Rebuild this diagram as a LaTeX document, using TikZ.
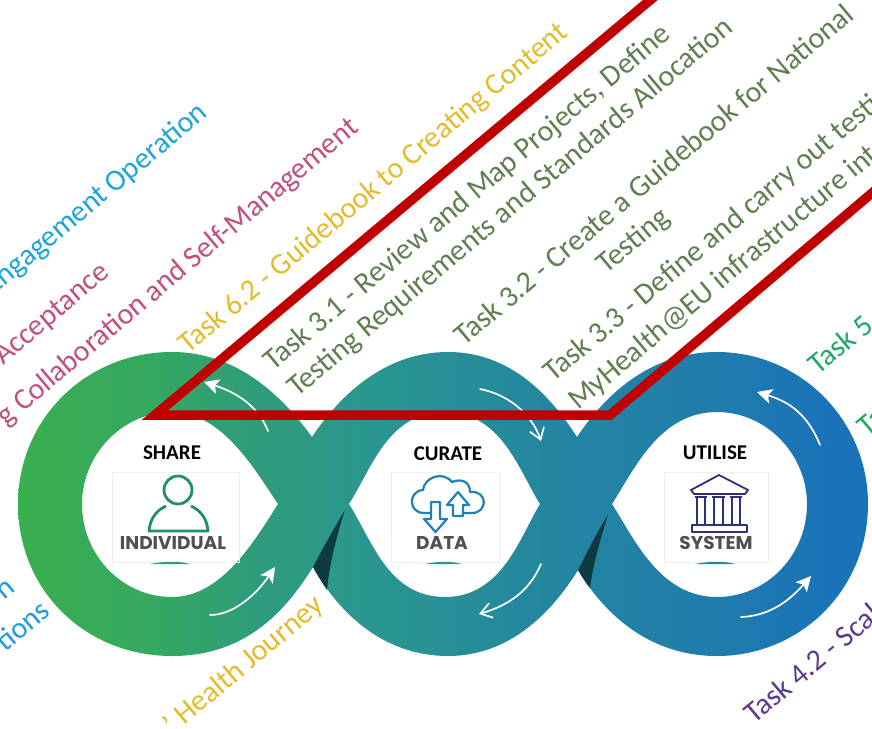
\documentclass[tikz,border=0pt]{standalone}
\usepackage{fontspec}
\setmainfont{Carlito}
\newfontfamily\labelfont{Poppins}
\usetikzlibrary{arrows.meta}
\definecolor{rA}{HTML}{39AF50}
\definecolor{rB}{HTML}{35A860}
\definecolor{rC}{HTML}{2E9C7C}
\definecolor{rD}{HTML}{2A9690}
\definecolor{rE}{HTML}{23869F}
\definecolor{rF}{HTML}{207CAC}
\definecolor{rG}{HTML}{1A72B9}
\definecolor{redline}{HTML}{C00000}
\definecolor{cyanT}{HTML}{1DA5D8}
\definecolor{blueT}{HTML}{1E9BDC}
\definecolor{pinkT}{HTML}{C2507C}
\definecolor{yelT}{HTML}{E3BC2C}
\definecolor{oliveT}{HTML}{5F7F50}
\definecolor{greenT}{HTML}{1FA768}
\definecolor{purpleT}{HTML}{5C3A8F}
\definecolor{shadowC}{HTML}{0E3A44}
\definecolor{personC}{HTML}{1F9160}
\definecolor{cloudC}{HTML}{1F80BC}
\definecolor{templeC}{HTML}{2E2F7A}
\definecolor{capC}{HTML}{505054}
\definecolor{boxC}{HTML}{EFEFEF}
\pgfdeclarehorizontalshading{ribbonshade}{100bp}{
 color(0bp)=(rA); color(25bp)=(rA); color(33bp)=(rB); color(39bp)=(rC); color(46bp)=(rD);
 color(56bp)=(rE); color(66bp)=(rF); color(73bp)=(rG); color(75bp)=(rG); color(100bp)=(rG)}
\tikzset{
 tasktext/.style={rotate=40,anchor=base west,inner sep=0pt,font=\fontsize{30}{30}\selectfont},
 headtext/.style={inner sep=0pt,text=black,font=\fontsize{21}{21}\selectfont\bfseries},
 captext/.style={inner sep=0pt,text=capC,font=\fontsize{18.5}{18.5}\selectfont\labelfont\bfseries},
 flow/.style={draw=white,line width=1.7pt,line cap=round},
 solidhead/.style={-{Stealth[length=15pt,width=15pt,inset=3.5pt]}},
 openhead/.style={-{Straight Barb[length=11pt,width=15pt]}},
 iconbox/.style={draw=boxC,line width=.6pt}
}
\begin{document}
\begin{tikzpicture}[x=1pt,y=-1pt]
\useasboundingbox (0,0) rectangle (872,728);
\clip (0,0) rectangle (872,728);
\fill[white] (0,0) rectangle (872,728);
% ribbon
\shade[shading=ribbonshade,even odd rule]
 (312,437) .. controls (285,400) and (240,352) .. (172,352)
 .. controls (85,352) and (18,420) .. (18,504)
 .. controls (18,590) and (85,656) .. (172,656)
 .. controls (245,656) and (285,612) .. (313,567)
 .. controls (340,615) and (385,656) .. (448,656)
 .. controls (510,656) and (552,612) .. (578,570)
 .. controls (605,615) and (650,656) .. (717,656)
 .. controls (800,656) and (868,590) .. (868,504)
 .. controls (868,420) and (800,352) .. (717,352)
 .. controls (650,352) and (605,395) .. (577,437)
 .. controls (550,395) and (510,352) .. (448,352)
 .. controls (385,352) and (340,395) .. (312,437) -- cycle
 (278,504) .. controls (255,470) and (222,412) .. (172,412)
 .. controls (122,412) and (82,455) .. (82,504)
 .. controls (82,555) and (122,597) .. (172,597)
 .. controls (222,597) and (255,540) .. (278,504) -- cycle
 (349,504) .. controls (372,468) and (388,412) .. (445,412)
 .. controls (502,412) and (520,473) .. (540,504)
 .. controls (520,537) and (502,597) .. (445,597)
 .. controls (388,597) and (372,540) .. (349,504) -- cycle
 (612,504) .. controls (635,468) and (660,412) .. (717,412)
 .. controls (767,412) and (807,455) .. (807,504)
 .. controls (807,555) and (767,597) .. (717,597)
 .. controls (660,597) and (635,540) .. (612,504) -- cycle;
% shadows
\fill[shadowC] (345,510) .. controls (330,535) and (322,550) .. (313,567)
 .. controls (317,575) and (322,582) .. (327,590) .. controls (330,560) and (337,535) .. (345,510) -- cycle;
\fill[shadowC] (608,515) .. controls (595,535) and (586,555) .. (578,570)
 .. controls (582,577) and (586,583) .. (590,588) .. controls (593,565) and (600,540) .. (608,515) -- cycle;
% flow arrows
\coordinate (fa1) at (268,431); \coordinate (fa1e) at (204,382);
\coordinate (fa2) at (210,615); \coordinate (fa2e) at (275,567);
\coordinate (fa3) at (480,389); \coordinate (fa3e) at (541,441);
\coordinate (fa4) at (541,564); \coordinate (fa4e) at (479,614);
\coordinate (fa5) at (820,445); \coordinate (fa5e) at (757,392);
\coordinate (fa6) at (741,617); \coordinate (fa6e) at (811,576);
\draw[flow,solidhead] (fa1) .. controls (258,405) and (235,392) .. (fa1e);
\draw[flow,solidhead] (fa2) .. controls (235,615) and (258,592) .. (fa2e);
\draw[flow,openhead] (fa3) .. controls (510,395) and (532,415) .. (fa3e);
\draw[flow,openhead] (fa4) .. controls (530,590) and (510,605) .. (fa4e);
\draw[flow,solidhead] (fa5) .. controls (808,415) and (790,402) .. (fa5e);
\draw[flow,solidhead] (fa6) .. controls (770,616) and (790,600) .. (fa6e);
% red outline
\coordinate (r0) at (661,-9); \coordinate (r1) at (155,415);
\coordinate (r2) at (610,415); \coordinate (r3) at (885,182);
\draw[redline,line width=9.5pt,miter limit=10] (r0) -- (r1) -- (r2) -- (r3);
% task texts
\node[tasktext,text=yelT] (t62) at (188,355) {Task 6.2 - Guidebook to Creating Content};
\node[tasktext,text=oliveT] (t31a) at (273,372) {Task 3.1 - Review and Map Projects, Define};
\node[tasktext,text=oliveT] (t31b) at (297,398) {Testing Requirements and Standards Allocation};
\node[tasktext,text=oliveT] (t32a) at (464,347) {Task 3.2 - Create a Guidebook for National};
\node[tasktext,text=oliveT] (t32b) at (606,275) {Testing};
\node[tasktext,text=oliveT] (t33a) at (553,383) {Task 3.3 - Define and carry out testing};
\node[tasktext,text=oliveT] (t33b) at (578,411) {MyHealth@EU infrastructure into};
\node[tasktext,text=cyanT,anchor=base east] (c1) at (209,115) {Engagement Operation};
\node[tasktext,text=pinkT,anchor=base east] (p1) at (111,275) {Acceptance};
\node[tasktext,text=pinkT,anchor=base east] (p2) at (360,130) {g Collaboration and Self-Management};
\node[tasktext,text=blueT,anchor=base east] (b1) at (17,590) {n};
\node[tasktext,text=blueT,anchor=base east] (b2) at (52,614) {tions};
\node[tasktext,text=yelT,anchor=base east] (y1) at (325,608) {' Health Journey};
\node[tasktext,text=purpleT] (u1) at (754,725) {Task 4.2 - Scal};
\node[tasktext,text=greenT] (g1) at (818,376) {Task 5};
\node[tasktext,text=greenT] (g2) at (867,438) {Ta};
% icon boxes
\node[iconbox,minimum width=127pt,minimum height=90pt,inner sep=0pt] (bx1) at (176,517) {};
\node[iconbox,minimum width=108pt,minimum height=90pt,inner sep=0pt] (bx2) at (445,517) {};
\node[iconbox,minimum width=104pt,minimum height=90pt,inner sep=0pt] (bx3) at (716,517) {};
\fill[rC] (150,564) .. controls (165,561) and (180,561) .. (190,564) -- cycle;
\fill[rD] (425,564) .. controls (440,561) and (450,561) .. (462,564) -- cycle;
\fill[rE] (695,564) .. controls (710,561) and (725,561) .. (735,564) -- cycle;
% headings
\node[headtext] (h1) at (172,453) {SHARE};
\node[headtext] (h2) at (448,454) {CURATE};
\node[headtext] (h3) at (715,453) {UTILISE};
\node[captext] (k1) at (173,543) {INDIVIDUAL};
\node[captext] (k2) at (442,543) {DATA};
\node[captext] (k3) at (716,543) {SYSTEM};
% person
\draw[personC,line width=2.8pt] (178,490) circle (14);
\draw[personC,line width=2.8pt,line join=round] (166,506) .. controls (155,511) and (150,520) .. (149,531) -- (208,531) .. controls (207,520) and (202,511) .. (191,506);
% cloud
\draw[cloudC,line width=2.2pt,line join=round] (431,513) -- (424,513) .. controls (408,513) and (408,491) .. (423,490)
 .. controls (424,478) and (442,470) .. (452,482) .. controls (462,478) and (470,482) .. (470,492)
 .. controls (488,490) and (488,513) .. (472,513) -- (463,513);
\draw[cloudC,line width=2.2pt,line join=round] (431,502) -- (440,502) -- (440,519) -- (447,519) -- (435.5,532) -- (424,519) -- (431,519) -- cycle;
\draw[cloudC,line width=2.2pt,line join=round] (453,516) -- (463,516) -- (463,505) -- (469,505) -- (458,492) -- (447,505) -- (453,505) -- cycle;
% temple
\draw[templeC,line width=1.8pt,line join=round] (691,490) -- (719,475) -- (748,490) -- (745,494) -- (694,494) -- cycle;
\foreach \xa/\xb in {697/705,714/723,732/740}{
 \draw[templeC,line width=1.8pt] (\xa,497) -- (\xa,524) (\xb,497) -- (\xb,524);
 \draw[templeC,line width=1.8pt] (\xa-2,497) -- (\xb+2,497);
}
\draw[templeC,line width=1.8pt,line join=round] (692,525) rectangle (747,532);
\end{tikzpicture}
\end{document}
